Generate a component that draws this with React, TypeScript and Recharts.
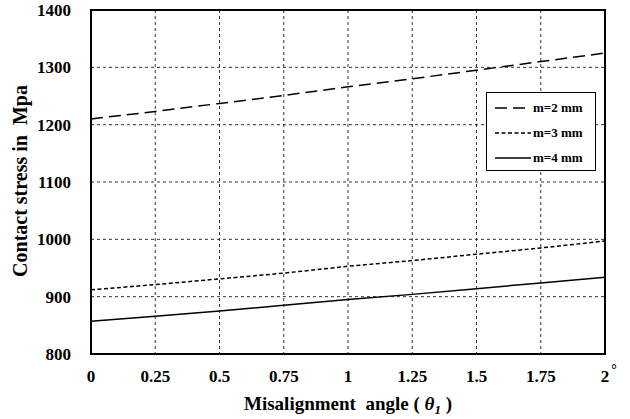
import { LineChart, Line, XAxis, YAxis, CartesianGrid, Legend, ReferenceArea } from 'recharts';

const angles = [0, 0.25, 0.5, 0.75, 1, 1.25, 1.5, 1.75, 2];
const m2 = [1210, 1223, 1237, 1251, 1266, 1280, 1295, 1310, 1325];
const m3 = [912, 921, 931, 941, 953, 963, 974, 985, 997];
const m4 = [857, 866, 875, 885, 895, 904, 914, 924, 934];
const yTicks = [800, 900, 1000, 1100, 1200, 1300, 1400];

const data = angles.map((a, i) => ({ angle: a, m2: m2[i], m3: m3[i], m4: m4[i] }));

const FONT = '"Liberation Serif", "Times New Roman", serif';

const seriesInfo = [
  { key: 'm2', name: 'm=2 mm', dash: '12 6' },
  { key: 'm3', name: 'm=3 mm', dash: '4 2.5' },
  { key: 'm4', name: 'm=4 mm', dash: undefined },
];

const XTick = (props: any) => {
  const { x, y, payload } = props;
  const v = payload.value as number;
  return (
    <g>
      <text x={x} y={y + 20} textAnchor="middle" fontFamily={FONT} fontWeight="bold" fontSize={17} fill="#000">
        {v}
      </text>
      {v === 2 && (
        <text x={x + 9} y={y + 12} textAnchor="middle" fontFamily={FONT} fontWeight="bold" fontSize={14} fill="#000">
          °
        </text>
      )}
    </g>
  );
};

const LegendBox = () => (
  <div
    style={{
      width: 110,
      height: 79,
      border: '1.5px solid #000',
      background: '#fff',
      fontFamily: FONT,
      fontWeight: 'bold',
      fontSize: 13,
      boxSizing: 'border-box',
      paddingTop: 2,
    }}
  >
    {seriesInfo.map((s) => (
      <div key={s.key} style={{ display: 'flex', alignItems: 'center', height: 25, paddingLeft: 8 }}>
        <svg width={36} height={6}>
          <line x1={0} y1={3} x2={36} y2={3} stroke="#000" strokeWidth={1.5} strokeDasharray={s.dash} />
        </svg>
        <span style={{ marginLeft: 2 }}>{s.name}</span>
      </div>
    ))}
  </div>
);

export default function App() {
  return (
    <div style={{ position: 'absolute', left: 0, top: 0, background: '#fff' }}>
      <LineChart width={630} height={419} data={data} margin={{ top: 10, right: 25, bottom: 0, left: 0 }}>
        <CartesianGrid stroke="#000" strokeWidth={0.8} strokeDasharray="3 3" />
        <XAxis
          dataKey="angle"
          type="number"
          domain={[0, 2]}
          ticks={angles}
          tick={<XTick />}
          tickLine={false}
          height={65}
          axisLine={{ stroke: '#000', strokeWidth: 2 }}
          label={{
            content: () => (
              <text
                x={348}
                y={410}
                textAnchor="middle"
                fontFamily={FONT}
                fontWeight="bold"
                fontSize={19}
                fill="#000"
                style={{ whiteSpace: 'pre' }}
              >
                {'Misalignment  angle ( '}
                <tspan fontStyle="italic">θ</tspan>
                <tspan fontStyle="italic" fontSize={13} dy={4}>1</tspan>
                <tspan dy={-4}>{' )'}</tspan>
              </text>
            ),
          }}
        />
        <YAxis
          type="number"
          domain={[800, 1400]}
          ticks={yTicks}
          width={91}
          tickLine={false}
          tickMargin={14}
          axisLine={{ stroke: '#000', strokeWidth: 2 }}
          tick={{ fontFamily: FONT, fontWeight: 'bold', fontSize: 17, fill: '#000' }}
          label={{
            content: () => (
              <text
                x={22}
                y={181}
                textAnchor="middle"
                dominantBaseline="middle"
                transform="rotate(-90 22 181)"
                fontFamily={FONT}
                fontWeight="bold"
                fontSize={20}
                fill="#000"
                style={{ whiteSpace: 'pre' }}
              >
                {'Contact stress in  Mpa'}
              </text>
            ),
          }}
        />
        <ReferenceArea x1={0} x2={2} y1={800} y2={1400} fill="none" stroke="#000" strokeWidth={2} />
        {seriesInfo.map((s) => (
          <Line
            key={s.key}
            dataKey={s.key}
            name={s.name}
            type="linear"
            stroke="#000"
            strokeWidth={1.5}
            strokeDasharray={s.dash}
            dot={false}
            isAnimationActive={false}
          />
        ))}
        <Legend
          layout="horizontal"
          verticalAlign="middle"
          align="center"
          content={<LegendBox />}
          wrapperStyle={{ position: 'absolute', left: 486, top: 92, width: 'auto' }}
        />
      </LineChart>
    </div>
  );
}
